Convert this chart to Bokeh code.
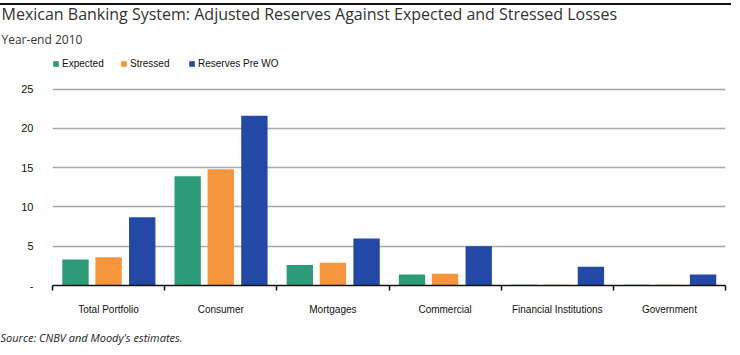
from bokeh.plotting import figure
from bokeh.models import (FixedTicker, Legend, LegendItem, ColumnDataSource, Title)
from bokeh.embed import file_html
from bokeh.resources import INLINE

# ---- data ----
categories = ["Total Portfolio", "Consumer", "Mortgages", "Commercial",
              "Financial Institutions", "Government"]
expected = [3.3, 13.9, 2.6, 1.4, 0.1, 0.1]
stressed = [3.6, 14.8, 2.9, 1.5, 0.1, 0.1]
reserves = [8.7, 21.6, 6.0, 5.0, 2.4, 1.4]
series_names = ["Expected", "Stressed", "Reserves Pre WO"]
colors = ["#2e9b78", "#f7943e", "#2348a5"]
y_ticks = [0, 5, 10, 15, 20, 25]

title_text = "Mexican Banking System: Adjusted Reserves Against Expected and Stressed Losses"
subtitle_text = "Year-end 2010"
source_text = "Source: CNBV and Moody's estimates."

# ---- main chart ----
W, H = 740, 355
ML, MR, MT, MB = 52, 15, 50, 68
FRAME_H = H - MT - MB              # 237
GRID_PX = 198                      # pixel height from 0 to 25
y_top = 25 * FRAME_H / GRID_PX

p = figure(width=W, height=H, output_backend="svg", toolbar_location=None,
           x_range=(0, len(categories)), y_range=(0, y_top),
           min_border_left=ML, min_border_right=MR, min_border_top=MT, min_border_bottom=MB)
p.outline_line_color = None
p.background_fill_color = "white"
# transparent border so the page-level top rule (CSS background) shows through
p.border_fill_alpha = 0
p.styles = {
    "background": "linear-gradient(to bottom, #ffffff 0px, #ffffff 3px, #111111 3px, "
                  "#111111 4.5px, #ffffff 4.5px, #ffffff 100%)",
    "background-size": "731px 100%",
    "background-repeat": "no-repeat",
    "background-color": "#ffffff",
}
p.xgrid.grid_line_color = None
p.ygrid.grid_line_color = "#a9a9a9"
p.ygrid.grid_line_width = 1.6
p.ygrid.ticker = FixedTicker(ticks=y_ticks)

# bars
offsets = [-0.295, 0.0, 0.30]
bar_w = 0.235
renderers = []
for vals, off, col in zip([expected, stressed, reserves], offsets, colors):
    src = ColumnDataSource(dict(x=[i + 0.5 + off for i in range(len(categories))], top=vals))
    r = p.vbar(x="x", top="top", width=bar_w, source=src, fill_color=col, line_color=None)
    renderers.append(r)

# x axis: labels at category centres, small ticks at category boundaries
xa = p.xaxis[0]
xa.ticker = FixedTicker(ticks=[i + 0.5 for i in range(len(categories))],
                        minor_ticks=list(range(len(categories) + 1)))
xa.major_label_overrides = {i + 0.5: c for i, c in enumerate(categories)}
xa.major_tick_line_color = None
xa.major_tick_in = 0
xa.major_tick_out = 0
xa.minor_tick_in = 0
xa.minor_tick_out = 5
xa.minor_tick_line_color = "#111111"
xa.minor_tick_line_width = 1.5
xa.axis_line_color = "#111111"
xa.axis_line_width = 1.5
xa.major_label_standoff = 13
xa.major_label_text_font = "Liberation Sans"
xa.major_label_text_font_size = "10px"
xa.major_label_text_color = "#111111"

# y axis
ya = p.yaxis[0]
ya.ticker = FixedTicker(ticks=y_ticks)
ya.major_label_overrides = {0: "-"}
ya.axis_line_color = None
ya.major_tick_line_color = None
ya.minor_tick_line_color = None
ya.major_tick_in = 0
ya.major_tick_out = 0
ya.major_label_standoff = 19
ya.major_label_text_font = "Liberation Sans"
ya.major_label_text_font_size = "11px"
ya.major_label_text_color = "#111111"

# legend entries (inside the frame, above the top grid line)
leg_x = [0, 68, 136]
for name, r, lx in zip(series_names, renderers, leg_x):
    lg = Legend(items=[LegendItem(label=name, renderers=[r])],
                location=(lx, 216), orientation="horizontal",
                glyph_width=7, glyph_height=7, label_height=7, label_standoff=3,
                padding=0, margin=0, spacing=0, border_line_color=None,
                background_fill_alpha=0, label_text_font="Liberation Sans",
                label_text_font_size="10px", label_text_color="#111111")
    p.add_layout(lg, "center")

# subtitle then title (stacked upward from the frame)
p.add_layout(Title(text=subtitle_text, align="left", offset=-ML + 1, text_font="Open Sans",
                   text_font_size="12px", text_font_style="normal", text_color="#333333",
                   standoff=6), "above")
p.add_layout(Title(text=title_text, align="left", offset=-ML + 1, text_font="Open Sans",
                   text_font_size="16px", text_font_style="normal", text_color="#333333",
                   standoff=1), "above")

# source note
p.add_layout(Title(text=source_text, align="left", offset=-ML, text_font="Open Sans",
                   text_font_size="11px", text_font_style="italic", text_color="#222222",
                   standoff=21), "below")

open("out.html", "w").write(file_html(p, INLINE))
